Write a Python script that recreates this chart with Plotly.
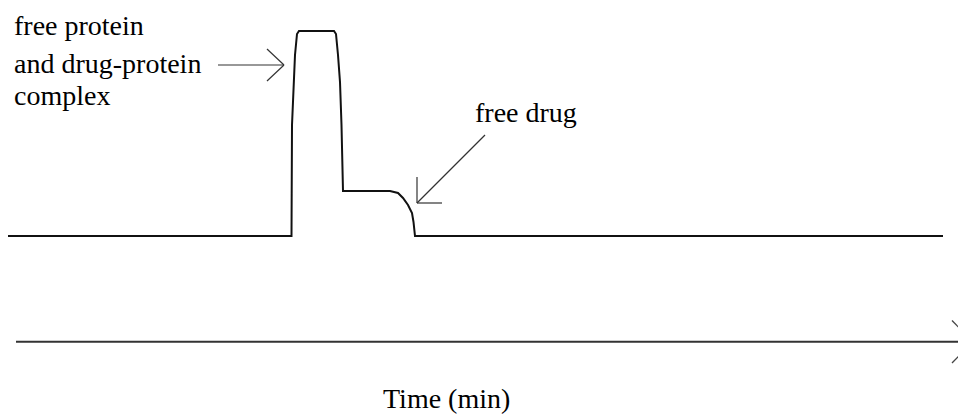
import plotly.graph_objects as go

# Chromatogram trace (time in px-like units, signal height above baseline)
time = [8, 291.5, 292, 293.5, 295, 297, 299, 334, 336, 338, 340, 341.5, 343,
        390, 398, 403, 408, 412, 413.5, 415, 943]
signal = [0, 0, 111, 154, 181, 202, 205, 205, 202, 181, 154, 111, 45,
          45, 43, 38, 31, 23, 14, 0, 0]

labels = ["free protein", "and drug-protein", "complex", "free drug", "Time (min)"]

FONT = dict(family="Liberation Serif, Times New Roman, serif", size=28, color="#000")

fig = go.Figure()
fig.add_trace(go.Scatter(x=time, y=signal, mode="lines",
                         line=dict(color="#111", width=2), hoverinfo="skip",
                         showlegend=False))

def seg(x0, y0, x1, y1, w=1.2, c="#333"):
    fig.add_shape(type="line", xref="x", yref="y", x0=x0, y0=y0, x1=x1, y1=y1,
                  line=dict(color=c, width=w))

# arrow to peak
seg(218, 171, 284, 171)
seg(267, 187, 284, 171)
seg(267, 155, 284, 171)
# free drug arrow
seg(485, 101, 417, 33)
seg(417, 59, 417, 33)
seg(442, 33, 417, 33)
# time axis arrow
seg(16, -105.7, 973, -105.7, w=2, c="#333")
seg(952, -84.5, 973, -105.7, w=1.3, c="#444")
seg(952, -127, 973, -105.7, w=1.3, c="#444")

ann = [
    (labels[0], 12, 211),
    (labels[1], 12, 173),
    (labels[2], 12, 141),
    (labels[3], 473, 124),
    (labels[4], 381, -162),
]
for t, x, y in ann:
    fig.add_annotation(text=t, x=x, y=y, xref="x", yref="y", showarrow=False,
                       xanchor="left", yanchor="middle", font=FONT)

# page body has an 8px margin: shift the visible window accordingly
fig.update_layout(
    width=966, height=416, margin=dict(l=0, r=0, t=0, b=0),
    paper_bgcolor="white", plot_bgcolor="white",
    xaxis=dict(range=[8, 974], visible=False, fixedrange=True),
    yaxis=dict(range=[-188, 228], visible=False, fixedrange=True),
)
fig.write_html("out.html")
